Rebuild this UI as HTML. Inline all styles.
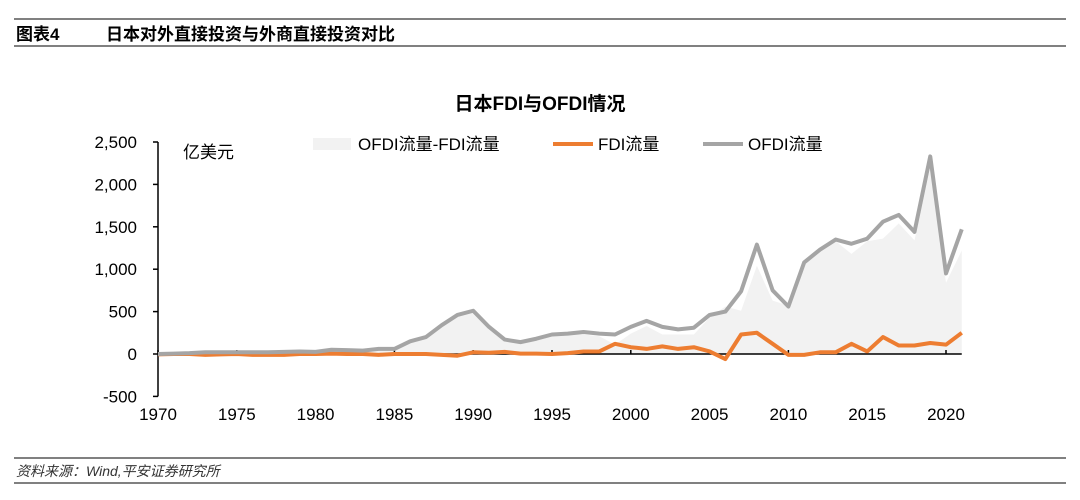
<!DOCTYPE html>
<html><head><meta charset="utf-8"><style>
body{margin:0;width:1080px;height:500px;background:#fff;font-family:"Liberation Sans","Noto Sans CJK SC",sans-serif;overflow:hidden}
svg{position:absolute;left:0;top:0}
</style></head><body>
<svg width="1080" height="500" id="svg">
<line x1="14" y1="19" x2="1066" y2="19" stroke="#000" stroke-width="1"/>
<line x1="14" y1="46" x2="1066" y2="46" stroke="#000" stroke-width="1"/>
<text x="16" y="40" font-size="17" font-weight="bold">图表4</text>
<text x="106" y="40" font-size="17" font-weight="bold">日本对外直接投资与外商直接投资对比</text>
<text x="540" y="110" font-size="19" font-weight="bold" text-anchor="middle">日本FDI与OFDI情况</text>
<text x="183" y="158" font-size="17">亿美元</text>
<rect x="313" y="138" width="38" height="12" fill="#f2f2f2"/>
<text x="358" y="150" font-size="17">OFDI流量-FDI流量</text>
<line x1="553" y1="144" x2="593" y2="144" stroke="#ed7d31" stroke-width="4"/>
<text x="598" y="150" font-size="17">FDI流量</text>
<line x1="703" y1="144" x2="743" y2="144" stroke="#a5a5a5" stroke-width="4"/>
<text x="748" y="150" font-size="17">OFDI流量</text>
<g id="plot"></g>
<line x1="14" y1="458" x2="1066" y2="458" stroke="#000" stroke-width="1"/>
<line x1="14" y1="483" x2="1066" y2="483" stroke="#000" stroke-width="1"/>
<text x="16" y="476" font-size="14" font-style="italic" fill="#333">资料来源：Wind,平安证券研究所</text>
</svg>
<script>
const years=[];for(let y=1970;y<=2021;y++)years.push(y);
const ofdi=[0,5,10,20,20,20,20,20,25,30,25,50,45,40,60,60,150,200,340,460,510,320,170,140,180,230,240,260,240,230,320,390,320,290,310,460,500,740,1290,750,560,1080,1230,1350,1300,1360,1560,1640,1440,2330,950,1470];
const fdi=[-5,0,0,-10,-5,0,-10,-10,-10,0,0,5,0,0,-10,0,0,0,-10,-20,20,15,25,5,5,0,10,30,30,120,80,60,90,60,80,30,-60,230,250,120,-10,-10,20,20,120,30,200,100,100,130,110,250];
const yTicks=[-500,0,500,1000,1500,2000,2500];
const xTicks=[1970,1975,1980,1985,1990,1995,2000,2005,2010,2015,2020];
const X=y=>158+(y-1970)*15.76;
const Y=v=>354-v*42.4/500;
const g=document.getElementById('plot');const NS='http://www.w3.org/2000/svg';
function mk(t,a){const e=document.createElementNS(NS,t);for(const k in a)e.setAttribute(k,a[k]);g.appendChild(e);return e;}
let d='M'+X(years[0])+','+Y(0);
years.forEach((y,i)=>{d+=' L'+X(y)+','+Y(ofdi[i]-fdi[i]);});
d+=' L'+X(years[years.length-1])+','+Y(0)+' Z';
let a=mk('path',{d:d,fill:'#f2f2f2'});


let ax=mk('line',{x1:158,y1:Y(2500),x2:158,y2:Y(-500),stroke:'#000','stroke-width':1.5});


yTicks.forEach(v=>{
 let t=mk('line',{x1:153,y1:Y(v),x2:158,y2:Y(v),stroke:'#000','stroke-width':1.5});
 
 
 let l=mk('text',{x:137,y:Y(v)+6,'font-size':17,'text-anchor':'end'});l.textContent=v.toLocaleString('en-US');
 
 
});
let xa=mk('line',{x1:158,y1:Y(0),x2:X(2021),y2:Y(0),stroke:'#000','stroke-width':1.5});


xTicks.forEach(v=>{
 let t=mk('line',{x1:X(v),y1:Y(0),x2:X(v),y2:Y(0)-4,stroke:'#000','stroke-width':1.5});
 
 
 let l=mk('text',{x:X(v),y:420,'font-size':17,'text-anchor':'middle'});l.textContent=v;
 
 
});
function line(arr,c,n){const p=mk('polyline',{points:years.map((y,i)=>X(y)+','+Y(arr[i])).join(' '),fill:'none',stroke:c,'stroke-width':4,'stroke-linejoin':'round'});
 
 }
line(fdi,'#ed7d31','fdi-line');
line(ofdi,'#a5a5a5','ofdi-line');
</script>
</body></html>
